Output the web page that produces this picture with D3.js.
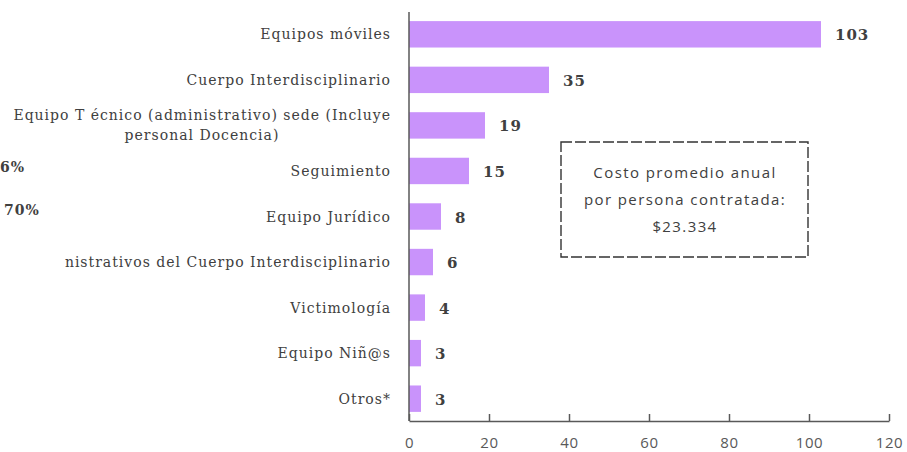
<!DOCTYPE html>
<html>
<head>
<meta charset="utf-8">
<script src="https://cdn.jsdelivr.net/npm/d3@7"></script>
<style>
  body { margin: 0; background: #fff; }
  svg { display: block; }
</style>
</head>
<body>
<svg id="chart" width="907" height="452"></svg>
<script>
var categorias = [
  ["Equipos móviles"],
  ["Cuerpo Interdisciplinario"],
  ["Equipo T écnico (administrativo) sede (Incluye", "personal Docencia)"],
  ["Seguimiento"],
  ["Equipo Jurídico"],
  ["nistrativos del Cuerpo Interdisciplinario"],
  ["Victimología"],
  ["Equipo Niñ@s"],
  ["Otros*"]
];
var valores = [103, 35, 19, 15, 8, 6, 4, 3, 3];
var ticks = [0, 20, 40, 60, 80, 100, 120];
var notaLineas = ["Costo promedio anual", "por persona contratada:", "$23.334"];
var fragmentos = ["6%", "70%"];

var barcolor = "#C993FB";
var svg = d3.select("#chart");

var x0 = 409, x1 = 889, yTop = 12, yBot = 421;

var xScale = d3.scaleLinear().domain([0, 120]).range([x0, x1]);
var yScale = d3.scaleBand()
  .domain(d3.range(valores.length))
  .range([yTop, yBot])
  .paddingInner(0.42)
  .paddingOuter(0.2);

// restos de textos a la izquierda
svg.selectAll(".frag")
  .data(fragmentos)
  .enter().append("text")
  .attr("class", "frag")
  .attr("x", function(d, i) { return i == 0 ? 0 : 4; })
  .attr("y", function(d, i) { return i == 0 ? 172 : 215; })
  .attr("font-family", "DejaVu Serif")
  .attr("font-weight", "bold")
  .attr("font-size", "14px")
  .attr("letter-spacing", "1px")
  .attr("fill", "#404040")
  .text(function(d) { return d; });

// barras
svg.selectAll(".bar")
  .data(valores)
  .enter().append("rect")
  .attr("class", "bar")
  .attr("x", xScale(0))
  .attr("y", function(d, i) { return yScale(i); })
  .attr("width", function(d) { return xScale(d) - xScale(0); })
  .attr("height", yScale.bandwidth())
  .attr("fill", barcolor);

// valores
svg.selectAll(".val")
  .data(valores)
  .enter().append("text")
  .attr("class", "val")
  .attr("x", function(d) { return xScale(d) + 14; })
  .attr("y", function(d, i) { return yScale(i) + yScale.bandwidth() / 2 + 6; })
  .attr("font-family", "DejaVu Serif")
  .attr("font-weight", "bold")
  .attr("font-size", "15px")
  .attr("letter-spacing", "1px")
  .attr("fill", "#404040")
  .text(function(d) { return d; });

// etiquetas de categoria
var etiquetas = svg.selectAll(".cat")
  .data(categorias)
  .enter().append("text")
  .attr("class", "cat")
  .attr("font-family", "DejaVu Serif")
  .attr("font-size", "14px")
  .attr("letter-spacing", "1px")
  .attr("fill", "#404040")
  .attr("transform", function(d, i) {
    var c = yScale(i) + yScale.bandwidth() / 2;
    return "translate(391," + (c + 5 - (d.length - 1) * 10) + ")";
  });
etiquetas.selectAll("tspan")
  .data(function(d) { return d; })
  .enter().append("tspan")
  .attr("x", function(d, j) { return j == 0 ? 0 : -189; })
  .attr("y", function(d, j) { return j * 20; })
  .attr("text-anchor", function(d, j) { return j == 0 ? "end" : "middle"; })
  .text(function(d) { return d; });

// eje X
var ejeX = svg.append("g")
  .attr("transform", "translate(0," + yBot + ")")
  .call(d3.axisBottom(xScale).tickValues(ticks).tickSize(-7).tickPadding(16).tickSizeOuter(0));
ejeX.select(".domain").attr("stroke", "#595959").attr("stroke-width", 1.5);
ejeX.selectAll(".tick line").attr("stroke", "#595959").attr("stroke-width", 1.5);
ejeX.selectAll(".tick text")
  .attr("font-family", "Open Sans")
  .attr("font-size", "15px")
  .attr("letter-spacing", "0.6px")
  .attr("fill", "#595959");

// eje Y
svg.append("line")
  .attr("x1", x0).attr("x2", x0)
  .attr("y1", yTop).attr("y2", yBot)
  .attr("stroke", "#595959")
  .attr("stroke-width", 1.5);

// nota
var nota = svg.append("g").attr("transform", "translate(561,142)");
nota.append("rect")
  .attr("width", 247).attr("height", 115)
  .attr("fill", "#fff")
  .attr("stroke", "#333")
  .attr("stroke-width", 1.4)
  .attr("stroke-dasharray", "11,3");
nota.selectAll("text")
  .data(notaLineas)
  .enter().append("text")
  .attr("x", 124)
  .attr("y", function(d, i) { return 36 + i * 27; })
  .attr("text-anchor", "middle")
  .attr("font-family", "Open Sans")
  .attr("font-size", "15px")
  .attr("letter-spacing", "1.4px")
  .attr("fill", "#404040")
  .text(function(d) { return d; });
</script>
</body>
</html>
